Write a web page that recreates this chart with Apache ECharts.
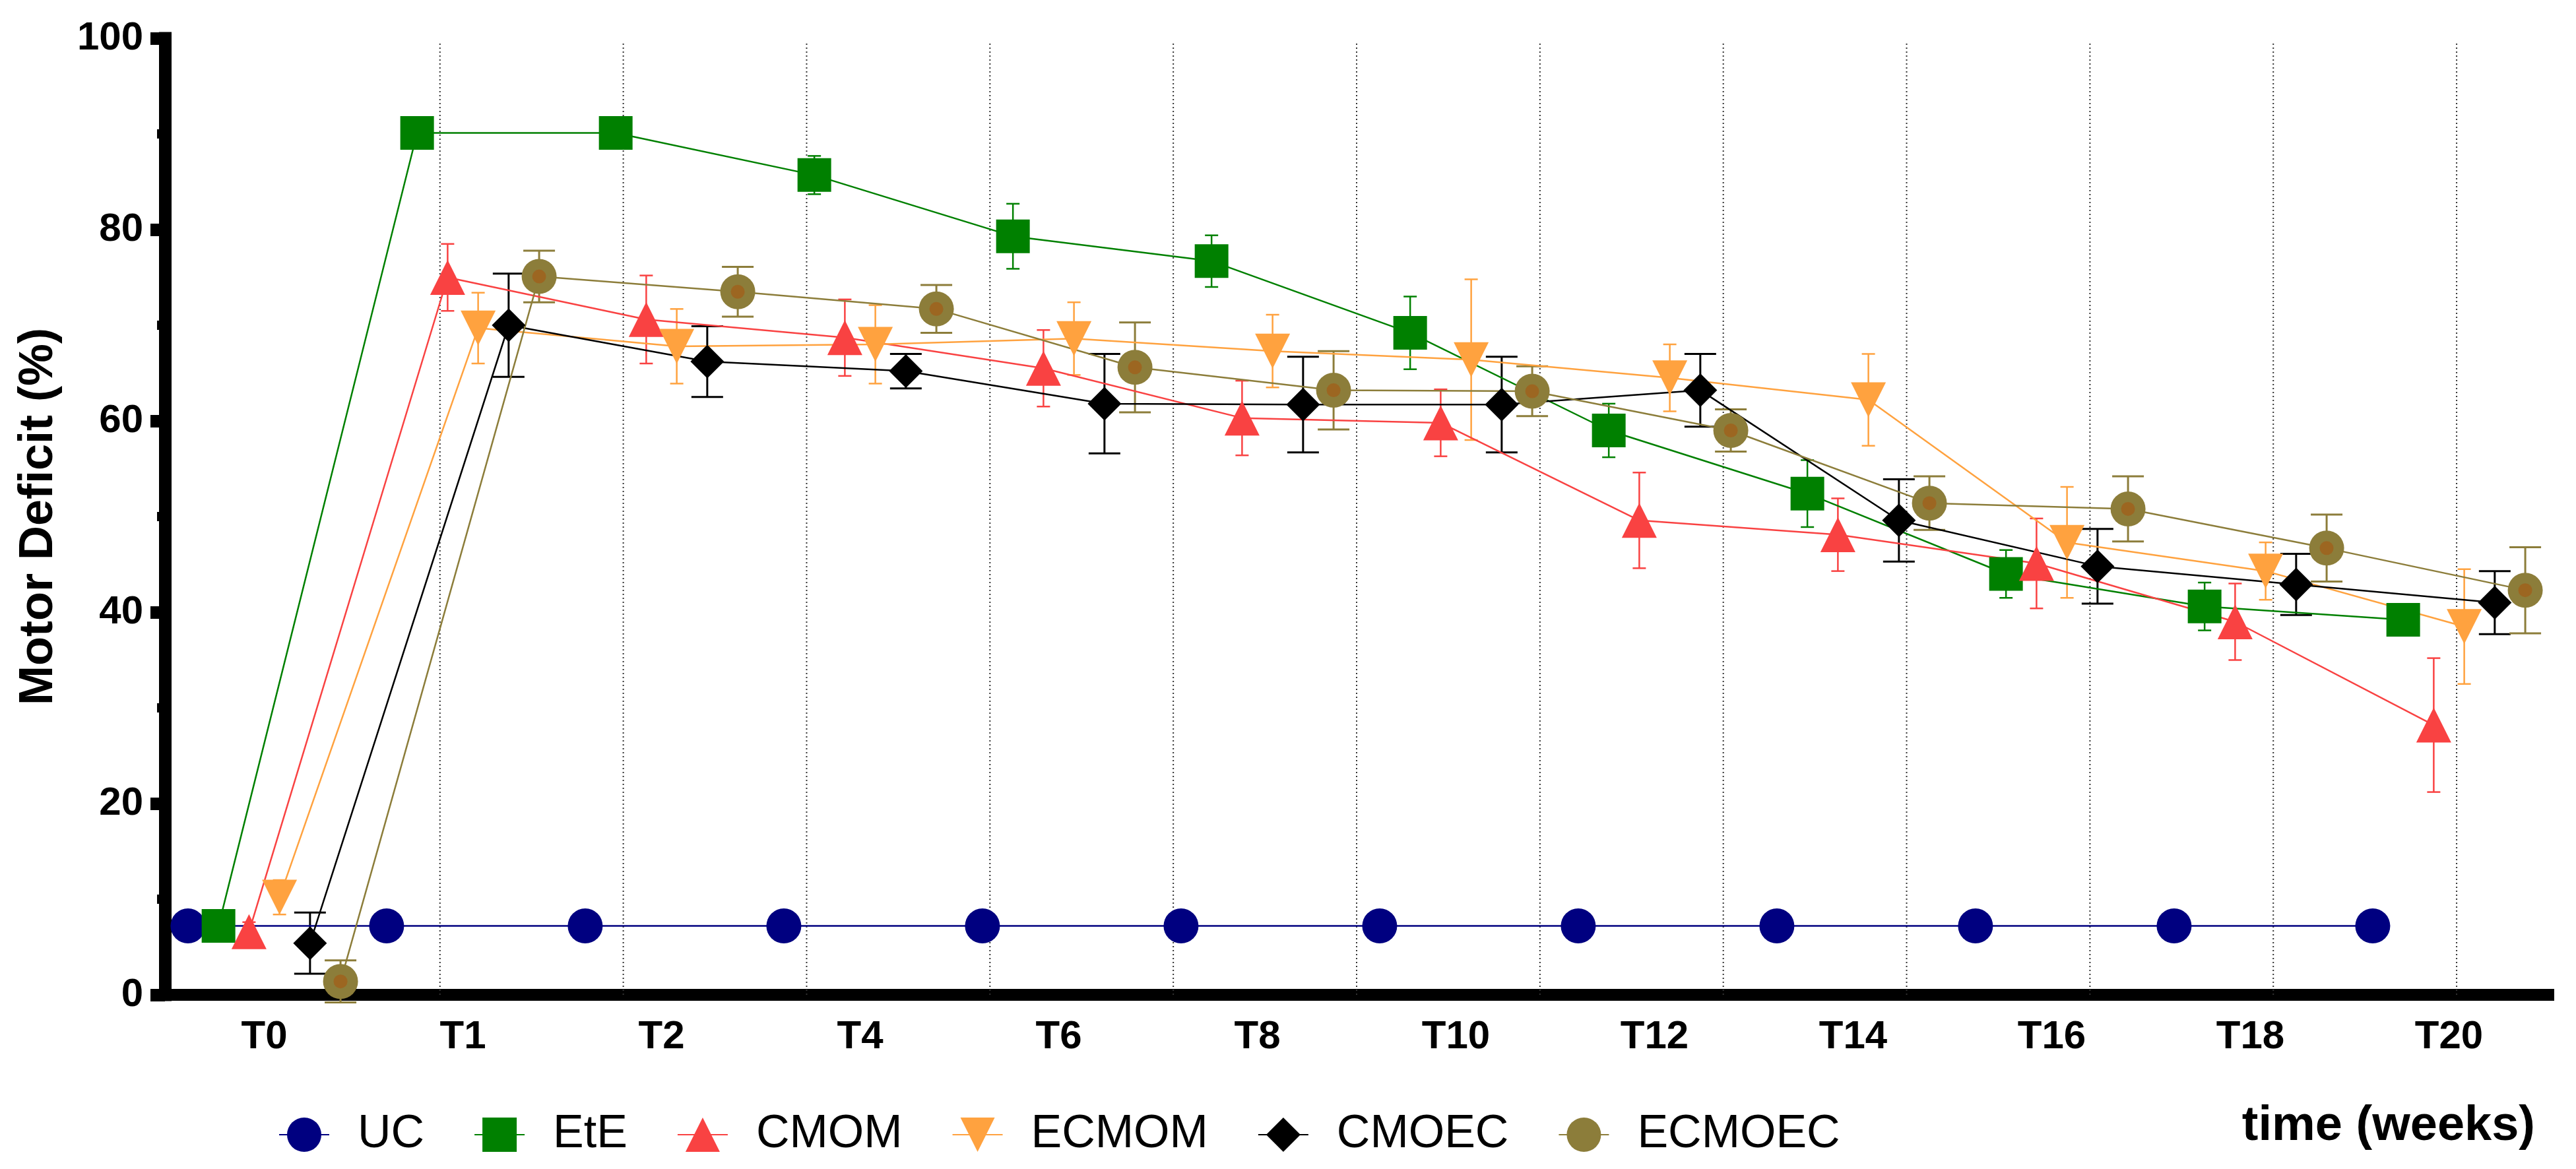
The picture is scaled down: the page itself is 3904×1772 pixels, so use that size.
<!DOCTYPE html>
<html>
<head>
<meta charset="utf-8">
<script src="https://cdn.jsdelivr.net/npm/echarts@6/dist/echarts.min.js"></script>
<style>
html,body{margin:0;padding:0;background:#fff;}
#chart{width:3904px;height:1772px;}
</style>
</head>
<body>
<div id="chart"></div>
<script>
// ---- data ----
const categories = ['T0','T1','T2','T4','T6','T8','T10','T12','T14','T16','T18','T20'];
const seriesNames = ['UC','EtE','CMOM','ECMOM','CMOEC','ECMOEC'];
const yTicks = [0, 20, 40, 60, 80, 100];

const ucMean     = [7.2, 7.2, 7.2, 7.2, 7.2, 7.2, 7.2, 7.2, 7.2, 7.2, 7.2, 7.2];
const ucErr      = [0, 0, 0, 0, 0, 0, 0, 0, 0, 0, 0, 0];
const eteMean    = [7.2, 90.1, 90.1, 85.7, 79.3, 76.7, 69.2, 59.0, 52.4, 44.0, 40.6, 39.2];
const eteErr     = [0, 0, 0, 2.0, 3.4, 2.7, 3.8, 2.8, 3.5, 2.5, 2.5, 0.5];
const cmomMean   = [6.6, 75.0, 70.6, 68.7, 65.5, 60.3, 59.8, 49.6, 48.1, 45.1, 39.0, 28.2];
const cmomErr    = [1.0, 3.5, 4.6, 4.0, 4.0, 3.9, 3.5, 5.0, 3.8, 4.7, 4.0, 7.0];
const ecmomMean  = [10.2, 69.7, 67.8, 68.0, 68.6, 67.3, 66.4, 64.5, 62.2, 47.3, 44.3, 38.5];
const ecmomErr   = [1.8, 3.7, 3.9, 4.1, 3.8, 3.8, 8.4, 3.5, 4.8, 5.8, 3.0, 6.0];
const cmoecMean  = [5.4, 70.0, 66.2, 65.2, 61.8, 61.7, 61.7, 63.2, 49.6, 44.8, 42.9, 41.0];
const cmoecErr   = [3.2, 5.4, 3.7, 1.8, 5.2, 5.0, 5.0, 3.8, 4.3, 3.9, 3.2, 3.3];
const ecmoecMean = [1.4, 75.1, 73.5, 71.7, 65.6, 63.2, 63.1, 59.0, 51.4, 50.8, 46.7, 42.3];
const ecmoecErr  = [2.2, 2.7, 2.6, 2.5, 4.7, 4.1, 2.6, 2.2, 2.8, 3.4, 3.5, 4.5];

const means = [ucMean, eteMean, cmomMean, ecmomMean, cmoecMean, ecmoecMean];
const errs  = [ucErr, eteErr, cmomErr, ecmomErr, cmoecErr, ecmoecErr];

// ---- styles ----
const FONT = 'Liberation Sans, Arial, sans-serif';
const looks = [
  {color:'#000080', symbol:'circle',   size:53, rotate:0,   cap:0,  ew:2.5},
  {color:'#008000', symbol:'rect',     size:51, rotate:0,   cap:10, ew:2.5},
  {color:'#F94242', symbol:'triangle', size:53, rotate:0,   cap:10, ew:2.5},
  {color:'#FFA23F', symbol:'triangle', size:53, rotate:180, cap:10, ew:2.5},
  {color:'#000000', symbol:'diamond',  size:51, rotate:0,   cap:24, ew:3},
  {color:'#8C7D3A', symbol:'circle',   size:53, rotate:0,   cap:24, ew:3}
];
const GROUP_STEP = 0.1536; // horizontal spacing between groups within a category band
const offsets = seriesNames.map((n, k) => (k - 2.5) * GROUP_STEP);

function errRenderer(look) {
  return function (params, api) {
    const x = api.value(0);
    const lo = api.coord([x, api.value(1)]);
    const hi = api.coord([x, api.value(2)]);
    const st = {stroke: look.color, lineWidth: look.ew};
    return {type:'group', children:[
      {type:'line', shape:{x1:lo[0], y1:lo[1], x2:hi[0], y2:hi[1]}, style:st},
      {type:'line', shape:{x1:lo[0]-look.cap, y1:lo[1], x2:lo[0]+look.cap, y2:lo[1]}, style:st},
      {type:'line', shape:{x1:hi[0]-look.cap, y1:hi[1], x2:hi[0]+look.cap, y2:hi[1]}, style:st}
    ]};
  };
}

const series = [];
// dotted vertical guide lines
series.push({
  type:'custom', name:'guides', xAxisIndex:1, yAxisIndex:0, silent:true, z:1,
  data: categories.map((c, i) => [i, 0]),
  renderItem: function (params, api) {
    const cs = params.coordSys;
    const k = api.value(0);
    const x = cs.x + cs.width * (k + 1.5) / (categories.length + 1);
    return {type:'line', shape:{x1:x, y1:cs.y + 8, x2:x, y2:cs.y + cs.height},
            style:{stroke:'#333', lineWidth:2, lineDash:[2, 4]}};
  }
});

seriesNames.forEach((name, k) => {
  const look = looks[k];
  const m = means[k], e = errs[k], off = offsets[k];
  if (look.cap > 0) {
    series.push({
      type:'custom', name: name + ' SEM', xAxisIndex:1, yAxisIndex:0, silent:true, z:2,
      encode:{x:0, y:[1, 2]},
      data: m.map((v, i) => [i + off, v - e[i], v + e[i]]),
      renderItem: errRenderer(look)
    });
  }
  series.push({
    type:'line', name: name, xAxisIndex:1, yAxisIndex:0, z:3,
    data: m.map((v, i) => [i + off, v]),
    symbol: look.symbol, symbolSize: look.size, symbolRotate: look.rotate,
    showSymbol:true, showAllSymbol:true,
    lineStyle:{color: look.color, width:2.5},
    itemStyle:{color: look.color},
    emphasis:{disabled:true}
  });
  if (name === 'ECMOEC') {
    series.push({
      type:'scatter', name:'ECMOEC core', xAxisIndex:1, yAxisIndex:0, z:4, silent:true,
      data: m.map((v, i) => [i + off, v]),
      symbol:'circle', symbolSize:21,
      itemStyle:{color:'#A0601C'}
    });
  }
});

const chart = echarts.init(document.getElementById('chart'), null, {renderer:'canvas'});
chart.setOption({
  animation:false,
  backgroundColor:'#ffffff',
  textStyle:{fontFamily: FONT},
  title:{
    text:'time (weeks)', right:57, top:1666,
    textStyle:{fontSize:74, fontWeight:'bold', color:'#000', fontFamily: FONT}
  },
  legend:{
    data: seriesNames, left:417, top:1680, orient:'horizontal',
    itemWidth:76, itemHeight:65, itemGap:75,
    textStyle:{fontSize:70, color:'#000', fontFamily: FONT, padding:[0,0,0,38]},
    selectedMode:false
  },
  grid:{left:250, right:42, top:58, bottom:264, containLabel:false, outerBoundsMode:'none'},
  xAxis:[
    {
      type:'category', data: categories, boundaryGap:true, position:'bottom',
      axisLine:{show:true, onZero:false, lineStyle:{color:'#000', width:18, cap:'square'}},
      axisTick:{show:false},
      axisLabel:{fontSize:60, fontWeight:'bold', color:'#000', margin:34, fontFamily: FONT, interval:0},
      splitLine:{show:false}
    },
    {
      type:'value', min:-0.5, max: categories.length - 0.5, show:false, position:'top',
      axisLine:{onZero:false}
    }
  ],
  yAxis:{
    type:'value', min: yTicks[0], max: yTicks[yTicks.length - 1], interval: yTicks[1] - yTicks[0],
    position:'left',
    name:'Motor Deficit (%)', nameLocation:'middle', nameGap:155,
    nameTextStyle:{fontSize:72, fontWeight:'bold', color:'#000', fontFamily: FONT},
    axisLine:{show:true, onZero:false, lineStyle:{color:'#000', width:19, cap:'square'}},
    axisTick:{show:true, length:22, lineStyle:{color:'#000', width:19}},
    minorTick:{show:true, splitNumber:2, length:12, lineStyle:{color:'#000', width:14}},
    axisLabel:{fontSize:60, fontWeight:'bold', color:'#000', margin:33, fontFamily: FONT},
    splitLine:{show:false}
  },
  series: series
});
</script>
</body>
</html>
